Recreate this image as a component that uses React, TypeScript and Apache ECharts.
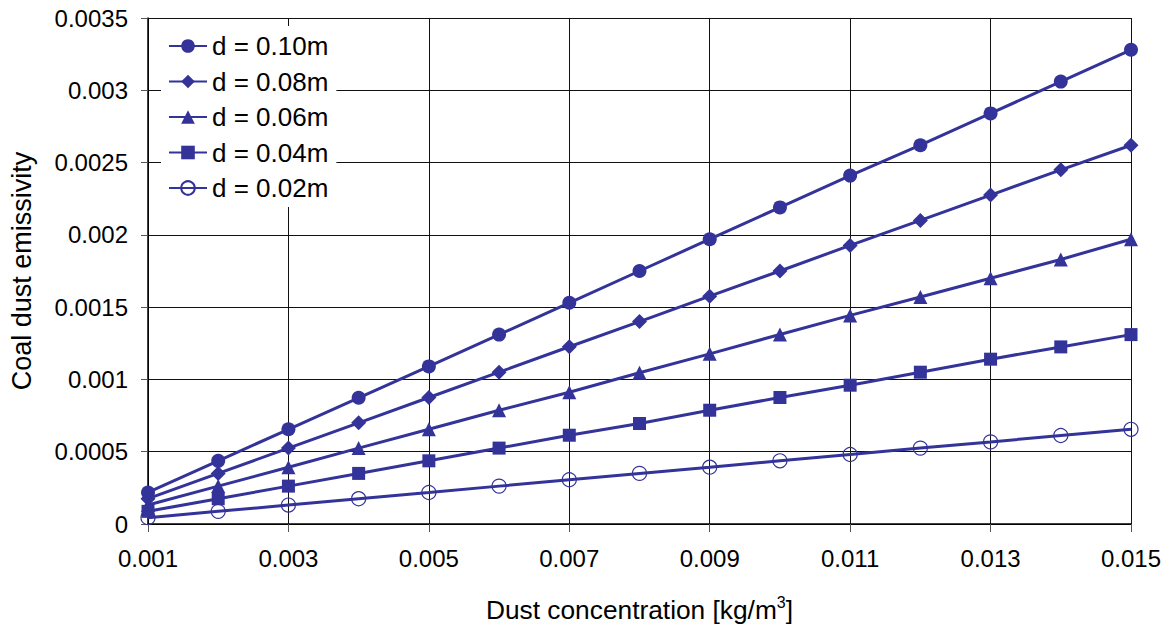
import React, { useEffect, useRef } from "react";
import * as echarts from "echarts";

// Dust concentration [kg/m3]
const concentration = [
  0.001, 0.002, 0.003, 0.004, 0.005, 0.006, 0.007, 0.008, 0.009, 0.01, 0.011,
  0.012, 0.013, 0.014, 0.015,
];

// Coal dust emissivity for each layer thickness d
const d010 = [
  0.000218, 0.000437, 0.000655, 0.000873, 0.00109, 0.00131, 0.00153, 0.00175,
  0.00197, 0.00219, 0.00241, 0.00262, 0.00284, 0.00306, 0.00328,
];
const d008 = [
  0.000175, 0.00035, 0.000525, 0.0007, 0.000875, 0.00105, 0.001226, 0.0014,
  0.001576, 0.00175, 0.001927, 0.0021, 0.002275, 0.00245, 0.00262,
];
const d006 = [
  0.000131, 0.000262, 0.000393, 0.000525, 0.000655, 0.000787, 0.000911,
  0.001046, 0.001177, 0.001311, 0.001443, 0.00157, 0.0017, 0.00183, 0.00197,
];
const d004 = [
  0.0000875, 0.000175, 0.000262, 0.00035, 0.000437, 0.000525, 0.000614,
  0.000695, 0.000787, 0.000875, 0.00096, 0.00105, 0.00114, 0.001225, 0.00131,
];
const d002 = [
  0.0000437, 0.0000875, 0.000131, 0.000175, 0.000218, 0.000262, 0.000306,
  0.00035, 0.000393, 0.000437, 0.000481, 0.000525, 0.000568, 0.000612,
  0.000655,
];

const seriesNames = ["d = 0.10m", "d = 0.08m", "d = 0.06m", "d = 0.04m", "d = 0.02m"];
const seriesValues = [d010, d008, d006, d004, d002];
const seriesSymbols = ["circle", "diamond", "triangle", "rect", "circle"];
const seriesHollow = [false, false, false, false, true];
const seriesSymbolSizes = [14, 15, 14, 13, 14];

const LINE_COLOR = "#333399";
const FONT = "'Liberation Sans', Arial, Helvetica, sans-serif";

export default function App() {
  const ref = useRef<HTMLDivElement>(null);

  useEffect(() => {
    if (!ref.current) return;
    const chart = echarts.init(ref.current, null, { renderer: "svg" });

    const series = seriesNames.map((name, i) => ({
      name,
      type: "line",
      data: concentration.map((c, k) => [c, seriesValues[i][k]]),
      symbol: seriesSymbols[i],
      symbolSize: seriesSymbolSizes[i],
      showAllSymbol: true,
      lineStyle: { color: LINE_COLOR, width: 3 },
      itemStyle: seriesHollow[i]
        ? { color: "rgba(255,255,255,0)", borderColor: LINE_COLOR, borderWidth: 1.2 }
        : { color: LINE_COLOR, borderWidth: 0 },
      emphasis: { disabled: true },
      z: 3,
    }));

    chart.setOption({
      animation: false,
      backgroundColor: "#ffffff",
      textStyle: { fontFamily: FONT },
      grid: {
        left: 148,
        right: 45,
        top: 18,
        bottom: 108,
        containLabel: false,
        outerBoundsMode: "none",
      },
      legend: {
        orient: "vertical",
        left: 161,
        top: 26,
        padding: [7, 8, 6, 7],
        itemGap: 9.5,
        itemWidth: 38,
        itemHeight: 17,
        backgroundColor: "#ffffff",
        data: seriesNames,
        textStyle: {
          fontFamily: FONT,
          fontSize: 26,
          color: "#000000",
          lineHeight: 26,
        },
        selectedMode: false,
        z: 10,
      },
      xAxis: {
        type: "value",
        min: 0.001,
        max: 0.015,
        interval: 0.002,
        name: "Dust concentration [kg/m{sup|3}]",
        nameLocation: "middle",
        nameGap: 70,
        nameTextStyle: {
          fontFamily: FONT,
          fontSize: 26.3,
          color: "#000000",
          lineHeight: 32,
          rich: {
            sup: {
              fontFamily: FONT,
              fontSize: 16,
              color: "#000000",
              verticalAlign: "top",
              lineHeight: 18,
            },
          },
        },
        axisLine: { show: true, onZero: false, lineStyle: { color: "#000000", width: 1.5 } },
        axisTick: { show: true, inside: false, length: 8, lineStyle: { color: "#555555", width: 1 } },
        axisLabel: {
          fontFamily: FONT,
          fontSize: 24,
          color: "#000000",
          margin: 22,
          formatter: (v: number) => v.toFixed(3),
        },
        splitLine: { show: true, lineStyle: { color: "#111111", width: 1 } },
      },
      yAxis: {
        type: "value",
        min: 0,
        max: 0.0035,
        interval: 0.0005,
        name: "Coal dust emissivity",
        nameLocation: "middle",
        nameGap: 113,
        nameRotate: 90,
        nameTextStyle: { fontFamily: FONT, fontSize: 27, color: "#000000" },
        axisLine: { show: true, onZero: false, lineStyle: { color: "#000000", width: 1.5 } },
        axisTick: { show: true, inside: false, length: 7, lineStyle: { color: "#555555", width: 1 } },
        axisLabel: {
          fontFamily: FONT,
          fontSize: 24,
          color: "#000000",
          margin: 20,
          formatter: (v: number) => String(parseFloat(v.toFixed(4))),
        },
        splitLine: { show: true, lineStyle: { color: "#111111", width: 1 } },
      },
      series,
    });

    return () => chart.dispose();
  }, []);

  return (
    <div
      ref={ref}
      style={{ position: "absolute", left: 0, top: 0, width: 1176, height: 632 }}
    />
  );
}
